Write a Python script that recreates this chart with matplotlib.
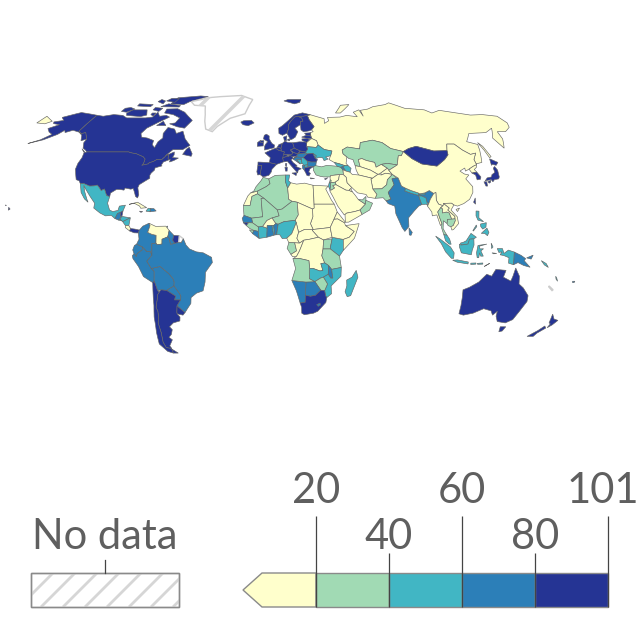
import numpy as np
import matplotlib
matplotlib.use("Agg")
import matplotlib.pyplot as plt
from matplotlib.patches import Polygon, Rectangle

plt.rcParams['font.family'] = ['Lato', 'DejaVu Sans']

# ---- legend data ----
bin_colors = ['#ffffcc', '#a1dab4', '#41b6c4', '#2c7fb8', '#253494']
bin_edges = [20, 40, 60, 80, 101]
no_data_label = 'No data'

# ---- country values (share, per cent; None = no data) ----
values = {
 'Canada':90,'USA':90,'Mexico':50,'Guatemala':70,'Belize':90,'El Salvador':50,'Honduras':50,'Nicaragua':50,
 'Costa Rica':10,'Panama':90,'Cuba':10,'Jamaica':90,'Haiti':50,'Dominican Rep.':70,'Trinidad':50,
 'Greenland':None,'Iceland':90,'Colombia':70,'Venezuela':10,'Guyana':70,'Suriname':90,'French Guiana':None,
 'Ecuador':70,'Peru':70,'Bolivia':70,'Paraguay':70,'Brazil':70,'Uruguay':90,'Argentina':90,'Chile':90,
 'Russia':10,'Kazakhstan':30,'Uzbekistan':10,'Turkmenistan':10,'Kyrgyzstan':30,'Tajikistan':10,'Afghanistan':10,
 'Pakistan':30,'India':70,'Nepal':50,'Bangladesh':50,'Bhutan':50,'China':10,'Mongolia':90,'North Korea':10,
 'South Korea':90,'Japan':90,'Taiwan':90,'Myanmar':10,'Thailand':30,'Laos':10,'Cambodia':30,'Vietnam':10,
 'Malaysia':50,'Indonesia':50,'Papua New Guinea':70,'Solomon Is.':50,'Philippines':50,'Sri Lanka':70,
 'Australia':90,'New Zealand':90,'New Caledonia':None,'Vanuatu':50,'Fiji':70,
 'Turkey':30,'Georgia':50,'Armenia':70,'Azerbaijan':50,'Syria':10,'Iraq':10,'Jordan':30,'Saudi Arabia':10,
 'Kuwait':10,'UAE':30,'Oman':30,'Yemen':10,'Iran':10,'Israel':50,'Lebanon':30,
 'Norway':90,'Sweden':90,'Finland':90,'Estonia':90,'Latvia':90,'Lithuania':90,'Belarus':10,'Ukraine':50,
 'Moldova':50,'Romania':90,'Bulgaria':70,'Greece':90,'Cyprus':90,'Albania':70,'Serbia':50,'N. Macedonia':50,
 'Bosnia':50,'Croatia':70,'Slovenia':90,'Hungary':70,'Slovakia':90,'Czechia':90,'Austria':90,'Switzerland':90,
 'Poland':90,'Germany':90,'France':90,'Spain':90,'Portugal':90,'Italy':90,'UK':90,'Ireland':90,'Denmark':90,
 'Netherlands':90,'Belgium':90,
 'Morocco':30,'Western Sahara':10,'Algeria':30,'Tunisia':50,'Libya':10,'Egypt':10,'Sudan':10,'South Sudan':10,
 'Mauritania':30,'Mali':30,'Niger':30,'Chad':10,'Senegal':70,'Guinea-Bissau':90,'Guinea':30,'Sierra Leone':30,
 'Liberia':70,"Cote d'Ivoire":50,'Burkina Faso':10,'Ghana':70,'Togo':50,'Benin':70,'Nigeria':50,'Cameroon':10,
 'CAR':10,'Gabon':30,'Congo':10,'DR Congo':10,'Uganda':30,'Kenya':50,'Tanzania':30,'Ethiopia':10,'Eritrea':10,
 'Somalia':10,'Zambia':50,'Malawi':70,'Mozambique':50,'Zimbabwe':30,'Botswana':70,'Namibia':70,
 'South Africa':90,'Lesotho':70,'Angola':30,'Madagascar':50,
}

# ---- country outlines (lon, lat) ----
outlines = {
'Canada':[
 [(-141,69.6),(-135,69),(-128,70),(-120,69.5),(-115,68),(-108,68),(-100,68),(-95,68.5),(-94,71.5),(-90,69),(-85,69.5),(-81.5,68.5),(-87,65.5),(-93,62),(-94.5,59),(-92.5,57),(-88,56.5),(-82.5,55.1),(-82,52.9),(-79.5,51.3),(-79,54.5),(-77,56.5),(-78.5,59),(-77.5,62.4),(-72,61.5),(-69,59),(-65,60.3),(-61,56),(-56,52.5),(-60,50.2),(-66.5,50.2),(-70,47),(-65,49),(-64.5,47.5),(-65,46),(-61,45.8),(-63.5,44.5),(-66,43.7),(-66,45.1),(-67,44.8),(-67.8,45.7),(-68,47.3),(-69.2,47.4),(-70.3,46.2),(-71.5,45),(-74.7,45),(-76.5,44),(-79,43.3),(-79,42.8),(-83.1,42),(-82.4,43),(-82.5,45.3),(-84.5,46.5),(-89.6,48),(-94.6,48.7),(-95.2,49),(-123.3,49),(-125,50),(-127.5,51),(-130,54),(-130,55.9),(-135,59.5),(-137.5,58.9),(-141,60.3)],
 [(-59,47.7),(-53,46.7),(-52.8,48),(-56,51.5),(-57.5,50.5)],
 [(-128,50.7),(-123.5,48.4),(-125,48.8)],
 [(-62,66.5),(-65,62),(-71,62.8),(-78,64.5),(-74,65),(-73,68),(-80,70),(-88,71),(-89,73.5),(-80,73.7),(-72,71.5),(-67,69)],
 [(-117,69.5),(-105,68.8),(-101,69.7),(-105,73),(-117,73),(-119,71)],
 [(-125,72),(-120,71.5),(-116,73.5),(-121,74.5),(-125,74)],
 [(-90,77),(-78,76.5),(-75,78.5),(-62,82.5),(-70,83.1),(-90,81.5)],
 [(-96,75),(-80,74.8),(-80,75.8),(-92,77)],
 [(-117,75.5),(-105,75),(-105,76.5),(-118,77)],
 [(-87,63.5),(-80,63.5),(-84,66)],
 [(-100,73),(-94,72),(-93,74),(-100,74.5)],
 [(-97,79),(-88,78),(-88,81),(-95,81)],
 [(-104,78.5),(-97,77),(-98,79),(-103,80)],
 [(-98,70),(-95,69),(-95,71),(-98,71)],
],
'USA':[
 [(-124.7,48.4),(-123.3,49),(-95.2,49),(-94.6,48.7),(-89.6,48),(-84.5,46.5),(-82.5,45.3),(-82.4,43),(-83.1,42),(-79,42.8),(-79,43.3),(-76.5,44),(-74.7,45),(-71.5,45),(-70.3,46.2),(-69.2,47.4),(-68,47.3),(-67.8,45.7),(-67,44.8),(-70,43.7),(-70.7,42),(-70,41.7),(-74,40.7),(-74,39.5),(-75.5,38),(-76,36.9),(-75.5,35.3),(-77.9,33.9),(-81,32),(-81.4,30.5),(-80,26.8),(-80.4,25.2),(-81.8,26),(-82.8,28),(-84,30),(-85.5,29.7),(-89,30.3),(-89.5,29.2),(-91.5,29.5),(-94,29.6),(-97.2,27.7),(-97.2,25.9),(-99.2,26.4),(-101.4,29.8),(-103.2,29),(-104.8,30.5),(-106.5,31.8),(-108.2,31.4),(-111,31.3),(-114.8,32.5),(-117.1,32.5),(-118.5,34),(-120.6,34.6),(-122,36.8),(-124,40),(-124.5,43),(-124,46)],
 [(-141,69.6),(-141,60.3),(-137.5,58.9),(-135,59.5),(-130,55.9),(-133,55),(-136,58),(-140,59.7),(-146,60.8),(-150,59.5),(-152,60.8),(-154,58.5),(-160,55.5),(-168,53.5),(-162,55.5),(-158,58.5),(-162,59.8),(-166,61.8),(-161,64),(-166.5,64.6),(-168,65.6),(-162,66.5),(-166.5,68.3),(-156.7,71.3),(-148,70.4)],
 [(-156,20.4),(-154.9,19.5),(-155.8,18.9)],
 [(-158.3,21.6),(-157.6,21.4),(-158,21.2)],
],
'Mexico':[[(-117.1,32.5),(-114.8,32.5),(-111,31.3),(-108.2,31.4),(-106.5,31.8),(-104.8,30.5),(-103.2,29),(-101.4,29.8),(-99.2,26.4),(-97.2,25.9),(-97.8,22.5),(-96,19),(-94,18.2),(-91,18.8),(-90.5,21),(-87,21.5),(-88,18.5),(-89.1,17.9),(-91,17.2),(-92.2,14.6),(-94.5,16.2),(-98,16),(-101.5,17.5),(-105.5,20),(-105.5,22.5),(-109,26),(-112.5,29.5),(-114.7,31.7),(-113,28.5),(-110.5,24.5),(-109.5,23),(-112,24.7),(-115,28),(-115.8,30)]],
'Guatemala':[[(-92.2,14.6),(-91,17.2),(-89.1,17.9),(-89.2,15.9),(-88.2,15.7),(-90,13.8)]],
'Belize':[[(-89.1,17.9),(-88,18.5),(-88.2,16),(-89.2,15.9)]],
'El Salvador':[[(-90,13.8),(-89.3,14.4),(-87.8,13.4)]],
'Honduras':[[(-89.3,14.4),(-88.2,15.7),(-83.2,15),(-87.5,13)]],
'Nicaragua':[[(-87.5,13),(-83.2,15),(-83.7,11),(-85.7,11)]],
'Costa Rica':[[(-85.7,11),(-83.7,11),(-82.6,9.5),(-83,8.2),(-85.7,10)]],
'Panama':[[(-83,8.2),(-82.6,9.5),(-80,9.2),(-77.4,8.7),(-77.9,7.2),(-80.4,7.3)]],
'Cuba':[[(-84.9,21.9),(-80,23),(-74.2,20.2),(-77.7,19.9),(-78.5,21),(-82,22.5)]],
'Jamaica':[[(-78.3,18.4),(-76.3,18.2),(-77.3,17.8)]],
'Haiti':[[(-74.4,18.4),(-72,18.1),(-71.7,19.8),(-73.3,19.9)]],
'Dominican Rep.':[[(-71.7,19.8),(-72,18.1),(-68.4,18.5),(-69.9,19.7)]],
'Trinidad':[[(-61.9,10.1),(-61,10.1),(-61,10.8)]],
'Greenland':[[(-73,78.2),(-68,76),(-58,75.5),(-54,70),(-52,66),(-49,61.5),(-43.5,60),(-41,63),(-33,67.8),(-22,70.5),(-20,76),(-18,80),(-30,83.5),(-50,82.5),(-62,81.5),(-66,80),(-73,78.7)]],
'Iceland':[[(-24,65.5),(-22,64),(-18,63.4),(-13.7,65),(-16,66.5),(-22,66.3)]],
'Colombia':[[(-77.4,8.7),(-75.5,10.7),(-72,12.2),(-71.3,11),(-72.5,7.5),(-70,6.5),(-67.5,6),(-67.5,2),(-69.9,1.7),(-69.9,-4.3),(-70.8,-2.3),(-72.9,-2.4),(-75.2,-0.1),(-78.8,1.4),(-77.4,4),(-77.9,7.2)]],
'Venezuela':[[(-72,12.2),(-68,10.6),(-62,10.7),(-60,8.5),(-60.7,5.2),(-64,4),(-64,1.5),(-67,1.2),(-67.5,2),(-67.5,6),(-70,6.5),(-72.5,7.5),(-71.3,11)]],
'Guyana':[[(-60,8.5),(-57.2,6),(-57.8,3.5),(-56.5,1.9),(-59,1.3),(-60,4.5),(-60.7,5.2)]],
'Suriname':[[(-57.2,6),(-54,5.8),(-54.3,2.3),(-56.5,1.9),(-57.8,3.5)]],
'French Guiana':[[(-54,5.8),(-51.6,4.2),(-52.8,2.2),(-54.3,2.3)]],
'Ecuador':[[(-80,0.8),(-78.8,1.4),(-75.2,-0.1),(-75.5,-1.5),(-78.4,-3.4),(-79,-5),(-80.3,-3.4),(-81,-1.5)]],
'Peru':[[(-81.3,-4.5),(-80.3,-3.4),(-79,-5),(-78.4,-3.4),(-75.5,-1.5),(-75.2,-0.1),(-72.9,-2.4),(-70.8,-2.3),(-69.9,-4.3),(-73,-7.3),(-70.6,-11),(-69,-12.5),(-69.5,-17.5),(-70.4,-18.3),(-75.5,-15.2),(-78,-10),(-81,-6)]],
'Bolivia':[[(-70.6,-11),(-65.3,-10),(-60.5,-13.7),(-58.2,-16.3),(-57.7,-18),(-58,-20),(-62.6,-22.3),(-66,-22),(-68,-22.5),(-69,-19),(-69.5,-17.5),(-69,-12.5)]],
'Paraguay':[[(-62.6,-22.3),(-58,-20),(-55,-24),(-54.5,-25.5),(-55,-27.2),(-58.6,-27.2),(-57.7,-25.2)]],
'Brazil':[[(-60.7,5.2),(-60,4.5),(-59,1.3),(-56.5,1.9),(-54.3,2.3),(-52.8,2.2),(-51.6,4.2),(-50,1),(-48,-1),(-44,-2.5),(-40,-3),(-35.2,-5.3),(-34.8,-8),(-39,-13),(-39.5,-18),(-41,-22.5),(-45,-23.7),(-48.5,-26),(-49,-29),(-53.4,-33.7),(-57.6,-30.2),(-55,-27.2),(-54.5,-25.5),(-55,-24),(-58,-20),(-57.7,-18),(-58.2,-16.3),(-60.5,-13.7),(-65.3,-10),(-70.6,-11),(-73,-7.3),(-69.9,-4.3),(-69.9,1.7),(-67.5,2),(-67,1.2),(-64,1.5),(-64,4)]],
'Uruguay':[[(-58.4,-33.5),(-57.6,-30.2),(-53.4,-33.7),(-54.9,-35),(-58.4,-34.3)]],
'Argentina':[
 [(-66,-22),(-62.6,-22.3),(-57.7,-25.2),(-58.6,-27.2),(-55,-27.2),(-57.6,-30.2),(-58.4,-33.5),(-58.4,-34.3),(-57,-36),(-57.6,-38),(-62,-39),(-65,-41),(-63.8,-42.5),(-65.3,-45),(-67.5,-46.5),(-65.8,-47.8),(-69,-51),(-68.4,-52.4),(-71.9,-52),(-72.5,-49),(-71.5,-44),(-71.5,-39),(-70.3,-36),(-69.9,-33),(-70.5,-31),(-69,-27),(-68.3,-24.5),(-67,-23)],
 [(-68.6,-52.7),(-65.2,-54.9),(-68.6,-54.9)]],
'Chile':[[(-69.5,-17.5),(-69,-19),(-68,-22.5),(-67,-23),(-68.3,-24.5),(-69,-27),(-70.5,-31),(-69.9,-33),(-70.3,-36),(-71.5,-39),(-71.5,-44),(-72.5,-49),(-71.9,-52),(-68.4,-52.4),(-68.6,-52.7),(-68.6,-54.9),(-72,-54),(-75.5,-50),(-74.5,-44),(-73.5,-40),(-73,-36),(-71.5,-30),(-70.4,-18.3)]],
'Russia':[
 [(31,69.9),(41,67.5),(40,64.7),(44,66.3),(44,68.3),(54,68.5),(60,69.5),(68,68.7),(67,71.5),(73,73),(73,69),(74,72.7),(81,73.5),(87,75),(100,76.5),(105,77.7),(113,74),(128,73),(131,71),(140,72.7),(160,69.7),(170,70),(180,69),(180,65),(177,62.5),(170,60),(164,60),(162,56),(156.7,51),(155.6,56.5),(163,62),(155,59.5),(142,59),(135,54.5),(141,53),(135,43.5),(131,42.8),(130.7,42.3),(131,45),(135,48.4),(131,47.7),(127.5,50),(125,53.2),(120,53.2),(117,49.7),(108,49.5),(98,52),(92,50.8),(87.5,49.2),(80,50.8),(76,54),(70,55.3),(61,54),(59,50.6),(51,51.6),(47,50),(47,48),(49,46.4),(47.5,43),(48.5,41.8),(46.5,41.8),(43.5,42.7),(40,43.5),(37,45),(38.5,47),(40,49.5),(35,50.3),(31.5,52.7),(31,55),(28,56.2),(27.5,59.4),(30,60),(29,61),(31.5,62.9),(29,66.9),(28.5,69),(28.5,69.5)],
 [(52,71),(56,71),(68,76.5),(60,76)],
 [(142,54),(143.3,52),(143.5,46.5),(142,46),(142,50)],
 [(-180,69),(-175,67.5),(-170,66),(-173,64.5),(-180,65)],
],
'Kazakhstan':[[(47,50),(51,51.6),(59,50.6),(61,54),(70,55.3),(76,54),(80,50.8),(87.5,49.2),(85,47),(83,47),(80,42.2),(74,43),(70,42.5),(66,41),(66,43.5),(61,44.5),(58.5,45.5),(56,45),(56,41.3),(53,41.8),(52.5,45),(50,45.5),(49,46.4),(47,48)]],
'Uzbekistan':[[(56,45),(58.5,45.5),(61,44.5),(66,43.5),(66,41),(70,42.5),(73,40.5),(68,38),(66,37.3),(62,39.5),(56,41.3)]],
'Turkmenistan':[[(53,41.8),(56,41.3),(62,39.5),(66,37.3),(62,35.3),(53.9,37),(53,39.5)]],
'Kyrgyzstan':[[(70,42.5),(74,43),(80,42.2),(73.5,39.4),(73,40.5)]],
'Tajikistan':[[(68,38),(73,40.5),(73.5,39.4),(75,37.3),(71,37.9),(68,37)]],
'Afghanistan':[[(66,37.3),(68,37),(71,37.9),(75,37.3),(71,34.5),(70,32),(66.5,29.9),(61,29.8),(61,35),(62,35.3)]],
'Pakistan':[[(61.6,25),(66.5,25.3),(68,23.7),(71,24.5),(70,28),(74.5,32),(74,35),(77,35.5),(75,37.3),(71,34.5),(70,32),(66.5,29.9),(61,29.8),(63,27)]],
'India':[[(68,23.7),(69,22.3),(72.8,21),(73,17),(76,10),(77.5,8),(80,10.5),(80.2,15),(84,18.5),(87,21),(89,21.8),(88.3,24.5),(88,26.3),(89.7,26.2),(92,25.2),(92,23.5),(93,22),(94.5,24.5),(97.3,27.5),(95,29),(92,27.8),(88.8,27.3),(88,27.8),(88,26.5),(84,27.5),(80.2,28.8),(81,30.2),(78.8,31.3),(78,35.4),(77,35.5),(74,35),(74.5,32),(70,28),(71,24.5)]],
'Nepal':[[(80.2,28.8),(84,27.5),(88,26.5),(88,27.8),(84,29),(81,30.2)]],
'Bangladesh':[[(88.3,24.5),(89,21.8),(91.8,22),(92.5,21),(92,25.2),(89.7,26.2),(88,26.3)]],
'Bhutan':[[(88.8,27.3),(92,27.8),(92,26.8),(89,26.8)]],
'China':[
 [(73.5,39.4),(80,42.2),(83,47),(85,47),(87.5,49.2),(91,45.5),(96,42.7),(105,41.6),(112,45),(116,47.5),(117,49.7),(120,53.2),(125,53.2),(127.5,50),(131,47.7),(135,48.4),(131,45),(130.7,42.3),(128,41.5),(124.3,40),(121.5,39),(122,40.6),(118,39),(120,37.5),(122.5,37),(119.5,35),(122,31),(121,28),(118,24.5),(114,22.3),(110,21),(108,21.6),(106.7,22.5),(102,22.4),(101.5,21.2),(99,22),(98,24),(98.7,28),(97.3,27.5),(95,29),(92,27.8),(88.8,27.3),(88,27.8),(84,29),(81,30.2),(78.8,31.3),(78,35.4),(75,37.3)],
 [(108.8,19.3),(111,20),(109.5,18.2)]],
'Mongolia':[[(87.5,49.2),(92,50.8),(98,52),(108,49.5),(117,49.7),(116,47.5),(112,45),(105,41.6),(96,42.7),(91,45.5)]],
'North Korea':[[(130.7,42.3),(128,41.5),(124.3,40),(125,38),(128.3,38.5),(127.5,39.8),(129.7,41)]],
'South Korea':[[(125,38),(128.3,38.5),(129.4,36),(128.5,34.8),(126.3,34.5),(126.7,37)]],
'Japan':[
 [(131,34),(133,35.5),(136,36),(137,37.2),(139.5,38.3),(140,40.5),(141.5,41.4),(142,39.5),(140.8,36),(139.8,35),(137,34.6),(135.5,33.5),(135,34.6)],
 [(130,33.5),(131.7,33.5),(131.2,31.3),(130.2,31.3)],
 [(132.3,33.5),(134.5,34.2),(134,33.3),(133,32.8)],
 [(140,42),(141.5,45.4),(145.3,43.5),(143,42),(141,42.5)]],
'Taiwan':[[(120,23),(121.5,25.2),(121,22)]],
'Myanmar':[[(92.2,21),(94.3,18),(94.3,16),(97,16.5),(98.5,11),(99.5,12),(98.5,15),(97.8,18),(100,20.3),(101.5,21.2),(99,22),(98,24),(98.7,28),(97.3,27.5),(94.5,24.5),(93,22)]],
'Thailand':[[(97.8,18),(98.5,15),(99.5,12),(99,10),(100.1,6.4),(102,6),(101,7.5),(99.9,9.5),(100.5,13.5),(102.5,12),(103,14.2),(105.5,14.3),(104.5,17.5),(103,18),(100.5,17.5),(101,19.5),(100,20.3)]],
'Laos':[[(101.5,21.2),(102,22.4),(105,20),(103.9,19),(107.5,15.8),(107.5,14.5),(105.5,14.3),(104.5,17.5),(103,18),(100.5,17.5),(101,19.5),(100,20.3)]],
'Cambodia':[[(103,14.2),(105.5,14.3),(107.5,14.5),(107.5,13.5),(106,11),(104.5,10.4),(103,11),(102.5,12)]],
'Vietnam':[[(102,22.4),(106.7,22.5),(108,21.6),(105.8,19),(108.9,15.5),(109.2,12),(106,9),(105,8.7),(104.5,10.4),(106,11),(107.5,13.5),(107.5,15.8),(103.9,19),(105,20)]],
'Malaysia':[[(100.1,6.4),(102,6),(103.4,4),(104.2,1.4),(103,1.5),(101,3.2)],
 [(109.6,2),(111.5,2.5),(113,3.2),(116,7),(119,5),(117.5,4.2),(115,4),(114,1.5),(110,1)]],
'Indonesia':[
 [(95.3,5.6),(98,4),(103.8,0),(106,-3),(105.8,-5.8),(104.5,-5.8),(101,-2.5),(98.5,1.7)],
 [(105.3,-6.8),(108,-6.6),(114.5,-7.7),(114.4,-8.7),(108,-7.8)],
 [(109,1.5),(110,1),(114,1.5),(115,4),(117.5,4.2),(117.5,1),(116.5,-1.5),(116,-4),(110.2,-3),(109,0)],
 [(119.8,0.8),(125,1.5),(120.5,0.4),(121,-1),(123,-0.9),(121.5,-2),(123,-4.7),(121.5,-4.7),(120.8,-3),(120.4,-5.5),(119.5,-5.5),(119,-3)],
 [(116,-8.3),(119,-8.2),(119,-8.8),(116,-9)],
 [(119.8,-8.4),(123,-8.2),(123,-8.8),(120,-8.9)],
 [(124,-10),(127,-8.4),(125,-9.4)],
 [(127.5,2),(128.5,0),(127.7,-0.8)],
 [(131,-0.8),(134,-0.8),(135,-3.3),(137.5,-1.6),(141,-2.6),(141,-9.1),(138,-8.3),(138,-5.5),(135,-4.4),(132.8,-4),(133.8,-2.5),(132,-2.8)],
 [(128,-3),(130.8,-3.3),(129,-3.5)]],
'Papua New Guinea':[
 [(141,-2.6),(145,-4.3),(147.8,-6),(147,-7),(150.8,-10.4),(147,-9.5),(143.5,-8),(141,-9.1)],
 [(148.3,-5.6),(152,-4.2),(151,-6.2)]],
'Solomon Is.':[[(157,-7),(160,-8.5),(161.5,-10.5),(159,-9.2)]],
'Vanuatu':[[(166.6,-15),(167.5,-16),(168.4,-17.6),(167.2,-16.5)]],
'Fiji':[[(177.3,-17.6),(178.6,-17.6),(178.3,-18.3),(177.3,-18.2)]],
'New Caledonia':[[(164,-20),(167,-22),(166.5,-22.4),(164,-20.5)]],
'Philippines':[
 [(120.5,18.5),(122.2,18.4),(121.5,15),(124,13),(120.8,13.8),(120,16)],
 [(122,7),(125.5,9.7),(126.5,7.5),(125.5,5.8),(124,7)],
 [(122,11.8),(125.5,12.5),(125,10.2),(123,9.2),(122,10.5)],
 [(117.2,8.4),(119.5,11.3),(119.7,10.5),(117.5,8.2)]],
'Sri Lanka':[[(80,9.8),(81.8,7.5),(81,6),(80,6.2)]],
'Australia':[
 [(113.5,-22),(114,-26),(115,-34.3),(118,-35),(123.5,-34),(129,-31.7),(134,-32.8),(136,-35),(138,-33),(138.5,-35.5),(141,-38.3),(146.5,-39),(150,-37.3),(151.5,-33),(153.6,-28),(153,-25),(149,-21),(146,-19),(145.3,-15),(142.5,-10.8),(141.5,-15),(140.8,-17.5),(136,-15.5),(137,-12),(131,-11.5),(129,-15),(126,-14),(122,-18),(117,-20.7)],
 [(144.8,-41),(148.3,-41),(147.8,-43.2),(146,-43.6)]],
'New Zealand':[
 [(172.8,-34.5),(175.5,-37),(178.5,-37.7),(176.8,-40),(175,-41.5),(175.2,-39.5),(174,-39)],
 [(172.7,-40.6),(174.3,-41.7),(171.2,-44.3),(170.5,-46),(166.5,-46),(170.5,-43)]],
'Turkey':[[(26,42),(28,41.8),(31.5,41.2),(35,42),(41.5,41.5),(43.6,41),(44.7,39.7),(44.5,37.2),(42,37.2),(36.5,36.7),(36,36),(32,36),(30,36.3),(27.4,37),(26,39.5),(26.3,41)]],
'Georgia':[[(40,43.5),(43.5,42.7),(46.5,41.8),(45,41.3),(43.6,41),(41.5,41.5)]],
'Armenia':[[(43.6,41),(45,41.3),(46.5,39),(44.7,39.7)]],
'Azerbaijan':[[(45,41.3),(46.5,41.8),(48.5,41.8),(50,40.4),(48.9,38.4),(46.5,39)]],
'Syria':[[(36,36),(36.5,36.7),(42,37.2),(41,34.5),(38.8,33.3),(36,33),(35.8,34.7)]],
'Iraq':[[(42,37.2),(44.5,37.2),(46,35.8),(46,33),(48.5,30.5),(47.7,30),(46.5,29.1),(44.7,29.2),(39,32),(38.8,33.3),(41,34.5)]],
'Jordan':[[(35,29.4),(35.5,32.4),(36,33),(38.8,33.3),(39,32),(37,31.5),(38,30.3),(36,29.3)]],
'Saudi Arabia':[[(34.8,29),(36,29.3),(38,30.3),(37,31.5),(39,32),(44.7,29.2),(46.5,29.1),(48.5,28.3),(50,26.5),(51.5,24.4),(55.5,22),(52,19),(48.8,18.2),(44,17.4),(43,16.7),(42.5,16.5),(39,21),(36.7,25.5)]],
'Kuwait':[[(46.5,29.1),(47.7,30),(48.5,28.3)]],
'UAE':[[(51.5,24.4),(54,24.2),(56.3,26),(56,24),(55.5,22)]],
'Oman':[[(56,24),(59.8,22.5),(57.7,19),(53,16.7),(52,19),(55.5,22)]],
'Yemen':[[(43,12.7),(45,12.8),(53,16.7),(52,19),(48.8,18.2),(44,17.4),(43,16.7)]],
'Iran':[[(44.7,39.7),(46.5,39),(48.9,38.4),(50,37.3),(53.9,37),(62,35.3),(61,35),(61,29.8),(63,27),(61.6,25),(57.3,25.6),(56.5,27),(51.5,27.8),(48.5,30.5),(46,33),(46,35.8),(44.5,37.2)]],
'Israel':[[(34.3,31.3),(35,33),(35.6,33),(35.5,31),(35,29.5)]],
'Lebanon':[[(35.1,33),(35.9,34.6),(36.5,34),(35.6,33)]],
'Norway':[[(5,59),(7.5,58),(10.8,59.2),(12,61.2),(12.5,64),(14.5,66),(18,68.5),(20.5,69),(25,69),(28.5,69.5),(31,69.9),(25,71.1),(18,69.7),(12,66),(8,63.5),(5,62)],
 [(11,79),(20,77),(25,78),(27,80),(15,80)]],
'Sweden':[[(10.8,59.2),(13,55.5),(14.5,56),(16.5,57),(18.8,60),(17,62),(21.5,64),(22,65.8),(24,66),(23.5,68),(20.5,69),(18,68.5),(14.5,66),(12.5,64),(12,61.2)]],
'Finland':[[(24,66),(22,65.8),(21.5,63.5),(21.3,61),(23,59.9),(27.5,60.5),(29,61),(31.5,62.9),(29,66.9),(28.5,69),(28.5,69.5),(25,69),(20.5,69),(23.5,68)]],
'Estonia':[[(23.5,59.2),(28,59.4),(27.5,57.6),(24.5,58)]],
'Latvia':[[(21,57),(24.5,58),(27.5,57.6),(28,56.2),(25,56.2)]],
'Lithuania':[[(21,56),(25,56.2),(26.5,55.5),(24,54),(21,55.2)]],
'Belarus':[[(23.5,52),(24,54),(26.5,55.5),(28,56.2),(31,55),(31.5,52.7),(30,51.4),(24,51.8)]],
'Ukraine':[[(24,51.8),(30,51.4),(31.5,52.7),(35,50.3),(40,49.5),(38.5,47),(35,46.3),(36.5,45.3),(33.7,44.4),(33,46),(30.5,46),(28.2,45.5),(29,47),(27,48.3),(22.9,47.9),(22.2,49),(24,50.5)]],
'Moldova':[[(27,48.3),(29,47),(28.2,45.5)]],
'Romania':[[(20.3,46),(22.9,47.9),(27,48.3),(28.2,45.5),(29.5,45),(28.5,43.7),(25,43.7),(22.7,44.2)]],
'Bulgaria':[[(22.7,44.2),(25,43.7),(28.5,43.7),(28,42),(26.3,41.3),(22.8,41.3)]],
'Greece':[[(20.2,39.6),(21,40.9),(26.3,41.3),(24,40.2),(23,38.5),(24,37.8),(23,36.5),(21.7,36.8),(21,38.3)],
 [(23.5,35.5),(26.3,35.2),(24,35)]],
'Cyprus':[[(32.3,35),(34.5,35.6),(33,34.6)]],
'Albania':[[(19.4,42),(20.6,42),(21,40.9),(20.2,39.6),(19.3,40.5)]],
'Serbia':[[(19,46),(20.3,46),(22.7,44.2),(22.8,42.3),(20.6,42),(19.2,43),(19,45)]],
'N. Macedonia':[[(20.6,42),(22.8,42.3),(22.8,41.3),(21,40.9)]],
'Bosnia':[[(15.8,45),(19,45),(19.2,43),(18,42.7)]],
'Croatia':[[(13.6,45.3),(16.5,46.5),(19,46),(19,45),(15.8,45),(18,42.7),(15,44.5)]],
'Slovenia':[[(13.6,45.5),(16,46.8),(16.5,46.5),(13.6,45.3)]],
'Hungary':[[(16,46.8),(17,48),(22.2,48.5),(22.9,47.9),(20.3,46),(19,46),(16.5,46.5)]],
'Slovakia':[[(17,48),(19,49.5),(22.5,49),(22.2,48.5)]],
'Czechia':[[(12.2,50),(15,51),(18.8,49.6),(17,48),(14.5,48.6)]],
'Austria':[[(9.6,47.4),(13,47.6),(13.7,48.6),(14.5,48.6),(17,48),(16,46.8),(13.6,46.5),(12,47)]],
'Switzerland':[[(6,46.3),(7,46),(10.4,46.7),(9.6,47.5),(7.6,47.6)]],
'Poland':[[(14.2,53.9),(19,54.4),(23,54.3),(24,54),(23.5,52),(24,50.5),(22.5,49),(19,49.5),(15,51)]],
'Germany':[[(6,51),(7,53.5),(9,54.8),(11,54),(14.2,53.9),(15,51),(12.2,50),(13.7,48.6),(13,47.6),(7.6,47.6),(8.2,49),(6.2,49.5)]],
'France':[[(-1.7,43.4),(3,42.5),(7.4,43.8),(7,46),(7.6,47.6),(8.2,49),(6.2,49.5),(4.2,50),(2.5,51),(-1.5,49.7),(-4.7,48.5),(-1.1,46)],
 [(8.6,42.9),(9.5,42.9),(9.2,41.4),(8.7,41.6)]],
'Belgium':[[(2.5,51),(4.2,51.4),(6,51),(6.2,49.5),(4.2,50)]],
'Netherlands':[[(3.5,51.4),(4.8,53),(7,53.5),(6,51),(4.2,51.4)]],
'Denmark':[[(8.2,57),(10.6,57.7),(10,55),(8.6,55)],[(11,55.8),(12.5,56),(12.3,55),(11,55.2)]],
'Spain':[[(-9,43.7),(-1.7,43.4),(3,42.5),(0,40),(-0.5,38.5),(-2,36.8),(-5.5,36),(-7.4,37.2),(-7,39.5),(-6.5,42),(-9,42)]],
'Portugal':[[(-9,42),(-6.5,42),(-7,39.5),(-7.4,37.2),(-8.9,37),(-9.5,38.7)]],
'Italy':[[(7,46),(7.4,43.8),(10,44),(12.5,41.5),(16,38),(16.5,39.5),(18.5,40.2),(15,41.5),(16,41.8),(13.5,43.5),(12.3,45),(13.6,45.5),(13.6,46.5),(12,47)],
 [(12.5,38),(15.5,38.2),(15,36.7)],[(8.2,41),(9.7,41),(9.5,39),(8.5,39)]],
'UK':[[(-5,50),(1.4,51.2),(1.7,52.7),(0,53.5),(-2,56),(-2,57.6),(-4,58.6),(-5.5,58),(-6,56),(-3,54.5),(-4.5,53),(-5,52)],
 [(-8,55),(-5.6,55),(-6,54),(-8,54.2)]],
'Ireland':[[(-10,52),(-6,52.2),(-6,54),(-8,54.2),(-8,55.2),(-10,54)]],
'Morocco':[[(-5.5,35.8),(-2,35),(-1.2,32.5),(-3.5,31),(-8.7,28.7),(-13,27.7),(-11,28.7),(-9.7,31),(-6.8,34)]],
'Western Sahara':[[(-13,27.7),(-8.7,28.7),(-8.7,27.3),(-12,26),(-13,21.3),(-17,21.3),(-14.5,26.2)]],
'Algeria':[[(-2,35),(2,36.8),(8.6,37),(8.3,33.5),(9.5,30.2),(10,24.5),(12,23.5),(6,19.5),(3.2,19),(-4.8,25),(-8.7,27.3),(-8.7,28.7),(-3.5,31),(-1.2,32.5)]],
'Tunisia':[[(8.6,37),(11,37),(10.2,34),(11.5,33),(9.5,30.2),(8.3,33.5)]],
'Libya':[[(11.5,33),(15,32.3),(20,32.8),(25,31.7),(25,20),(24,19.5),(15,23),(12,23.5),(10,24.5),(9.5,30.2)]],
'Egypt':[[(25,31.7),(34.2,31.3),(32.5,29.8),(35.5,24),(37,22),(25,22)]],
'Sudan':[[(24,19.5),(25,20),(25,22),(37,22),(38.5,18),(36.4,14.3),(34,10),(29,9.5),(24,9),(22.5,12),(24,15.5)]],
'South Sudan':[[(24,9),(29,9.5),(34,10),(35,5),(30,3.6),(27,5),(23.5,8.5)]],
'Mauritania':[[(-17,21.3),(-13,21.3),(-12,26),(-8.7,27.3),(-4.8,25),(-6.5,25),(-5.5,15.5),(-12,14.8),(-16.5,16.2)]],
'Mali':[[(-12,14.8),(-5.5,15.5),(-6.5,25),(-4.8,25),(3.2,19),(4.2,16),(0,14.9),(-3,13.6),(-5.5,10.5),(-8,10.3),(-11.4,12.4)]],
'Niger':[[(4.2,16),(3.2,19),(6,19.5),(12,23.5),(15,23),(15.5,16.5),(13.6,13.7),(7,13),(3.6,11.7),(2.2,12),(0,14.9)]],
'Chad':[[(15,23),(24,19.5),(24,15.5),(22.5,12),(24,9),(19,9),(15.5,7.5),(14.2,12.5),(13.6,13.7),(15.5,16.5)]],
'Senegal':[[(-17.5,14.7),(-16.5,16.2),(-12,14.8),(-11.4,12.4),(-16.7,12.4)]],
'Guinea-Bissau':[[(-16.7,12.4),(-13.7,12.5),(-15,11)]],
'Guinea':[[(-15,11),(-13.7,12.5),(-11.4,12.4),(-8,10.3),(-8,8),(-10.5,8.5),(-13,9.5)]],
'Sierra Leone':[[(-13.2,8.8),(-10.5,8.5),(-11.3,6.9)]],
'Liberia':[[(-11.4,6.9),(-10.5,8.5),(-8,8),(-7.5,4.4)]],
"Cote d'Ivoire":[[(-8,8),(-8,10.3),(-5.5,10.5),(-2.8,9.7),(-3,5),(-7.5,4.4)]],
'Burkina Faso':[[(-5.5,10.5),(-3,13.6),(0,14.9),(2.2,12),(1,11),(0,11),(-2.8,11),(-2.8,9.7)]],
'Ghana':[[(-2.8,11),(0,11),(1,6),(-3,5),(-2.8,9.7)]],
'Togo':[[(0,11),(1,11),(1.7,6.2),(1,6)]],
'Benin':[[(1,11),(2.2,12),(3.6,11.7),(2.7,6.3),(1.7,6.2)]],
'Nigeria':[[(2.7,6.3),(3.6,11.7),(7,13),(13.6,13.7),(14.2,12.5),(11.5,6.8),(8.6,4.5),(6,4.3),(4.5,6.3)]],
'Cameroon':[[(8.6,4.5),(11.5,6.8),(14.2,12.5),(15.5,7.5),(14.5,4.5),(16,2),(9.8,2.2)]],
'CAR':[[(14.5,4.5),(15.5,7.5),(19,9),(24,9),(23.5,8.5),(27,5),(22,4),(18.5,3.5),(16,2)]],
'Gabon':[[(9.8,2.2),(13.2,2.2),(14.3,-2),(11,-3.8),(8.8,-0.7)]],
'Congo':[[(13.2,2.2),(16,2),(18.5,3.5),(16,-2),(14.3,-4.8),(12,-5),(11,-3.8),(14.3,-2)]],
'DR Congo':[[(18.5,3.5),(22,4),(27,5),(30,3.6),(29.7,-1),(29,-4.5),(30.8,-8.2),(28.5,-8.5),(29.8,-12.1),(28,-12.3),(24,-11),(22,-11),(21.5,-7),(16.5,-6),(12.2,-6),(14.3,-4.8),(16,-2)]],
'Uganda':[[(30,3.6),(35,4.2),(34,0),(33.9,-1),(29.7,-1)]],
'Kenya':[[(35,4.2),(35,5),(41.5,3.9),(41.5,-1.7),(39.3,-4.7),(33.9,-1),(34,0)]],
'Tanzania':[[(29.7,-1),(33.9,-1),(39.3,-4.7),(40.5,-10.5),(34.9,-11.5),(33,-9.5),(30.8,-8.2),(29,-4.5)]],
'Ethiopia':[[(36.4,14.3),(38.5,14.5),(42.4,12.5),(43,11),(48,8),(45,5),(41.5,3.9),(35,5),(34,10)]],
'Eritrea':[[(36.4,14.3),(38.5,18),(43,12.7),(42.4,12.5),(38.5,14.5)]],
'Somalia':[[(43,11),(51,12),(48,4.5),(41.5,-1.7),(41.5,3.9),(45,5),(48,8)]],
'Zambia':[[(22,-11),(24,-11),(28,-12.3),(29.8,-12.1),(28.5,-8.5),(30.8,-8.2),(33,-9.5),(33,-14),(30.2,-15.5),(28.5,-16),(25.3,-17.8),(22,-16.3)]],
'Malawi':[[(33,-9.5),(34.9,-11.5),(35.8,-16),(34.5,-16),(33,-14)]],
'Mozambique':[[(30.2,-15.5),(33,-14),(34.5,-16),(35.8,-16),(34.9,-11.5),(40.5,-10.5),(40.5,-15),(35,-20),(35.5,-24),(32.8,-26),(32,-25),(31.3,-22.4),(32.8,-19)]],
'Zimbabwe':[[(25.3,-17.8),(28.5,-16),(30.2,-15.5),(32.8,-19),(31.3,-22.4),(29,-22.2)]],
'Botswana':[[(20,-18),(25.3,-17.8),(29,-22.2),(26,-24.8),(23,-25.3),(20,-24.8)]],
'Namibia':[[(11.7,-17.2),(20,-18),(20,-28.4),(17,-28.8),(14.5,-22.5)]],
'South Africa':[[(17,-28.8),(20,-28.4),(20,-24.8),(23,-25.3),(26,-24.8),(29,-22.2),(31.3,-22.4),(32,-25),(32.8,-26),(32.5,-28.5),(28,-33),(25.5,-34),(20,-34.8),(18.3,-34),(18,-31)]],
'Lesotho':[[(27,-29.6),(29,-28.8),(29.4,-29.8),(28,-30.5)]],
'Angola':[[(12.2,-6),(16.5,-6),(21.5,-7),(22,-11),(22,-16.3),(25.3,-17.8),(20,-18),(11.7,-17.2),(13.8,-11)]],
'Madagascar':[[(49.3,-12),(50.5,-15.5),(47,-25),(45,-25.5),(43.5,-23),(44.3,-20),(44,-17),(47,-15.5)]],
}

# ---- Robinson projection tables ----
LATS = np.arange(0, 95, 5)
PLEN = [1,.9986,.9954,.99,.9822,.973,.96,.9427,.9216,.8962,.8679,.835,.7986,.7597,.7186,.6732,.6213,.5722,.5322]
PDFE = [0,.062,.124,.186,.248,.31,.372,.434,.4958,.5571,.6176,.6769,.7346,.7903,.8435,.8936,.9394,.9761,1]

def project(ring):
    pts = []
    n = len(ring)
    for i in range(n):
        a = np.array(ring[i], float)
        b = np.array(ring[(i + 1) % n], float)
        steps = max(1, int(np.hypot(*(b - a)) // 3))
        for t in range(steps):
            pts.append(a + (b - a) * t / steps)
    p = np.array(pts)
    al = np.abs(p[:, 1])
    return np.column_stack([p[:, 0] * np.interp(al, LATS, PLEN),
                            np.sign(p[:, 1]) * np.interp(al, LATS, PDFE)])

def color_for(v):
    for c, e in zip(bin_colors, bin_edges):
        if v < e:
            return c
    return bin_colors[-1]

fig = plt.figure(figsize=(6.4, 6.4), dpi=100, facecolor='white')
ax = fig.add_axes([0, 0, 1, 1])
K, S, CX, CY = 1.72, 157.0, 272.0, 247.0
ax.set_xlim(-CX / K, (640 - CX) / K)
ax.set_ylim(-(640 - CY) / S, CY / S)
ax.axis('off')

# overlay in pixel units, used for the legend and for the no-data stripes
px = fig.add_axes([0, 0, 1, 1], facecolor='none')
px.set_xlim(0, 640)
px.set_ylim(640, 0)
px.axis('off')

STRIPE = '#d6d6d6'
def stripes(patch, lw=2.0, gap=22):
    for off in range(-640, 1280, gap):
        ln, = px.plot([off, off + 640], [640, 0], color=STRIPE, lw=lw, zorder=2,
                      solid_capstyle='butt')
        ln.set_clip_path(patch)

for name, rings in outlines.items():
    v = values[name]
    for ring in rings:
        xy = project(ring)
        if v is None:
            poly = Polygon(xy, closed=True, facecolor='white', edgecolor='#cccccc', lw=1.0)
            ax.add_patch(poly)
            stripes(poly, lw=2.5, gap=34)
        else:
            ax.add_patch(Polygon(xy, closed=True, facecolor=color_for(v), edgecolor='#666666', lw=0.45))

# ---- legend ----
TXT = '#5f5f5f'
LINE = '#444444'
EDGE = '#8a8a8a'
x0, bw, y0, y1 = 316, 73, 573, 607
FS = 30
for i, c in enumerate(bin_colors):
    if i == 0:
        pts = [(x0, y0), (x0 - 54, y0), (x0 - 73, (y0 + y1) / 2), (x0 - 54, y1), (x0, y1)]
    else:
        xa = x0 + bw * (i - 1)
        pts = [(xa, y0), (xa + bw, y0), (xa + bw, y1), (xa, y1)]
    px.add_patch(Polygon(pts, closed=True, facecolor=c, edgecolor=EDGE, lw=1.0, zorder=3))
for i, e in enumerate(bin_edges):
    x = x0 + bw * i
    high = i % 2 == 0
    top = 516 if high else 553
    px.plot([x, x], [top, y1], color=LINE, lw=0.9, zorder=4, solid_capstyle='butt')
    last = i == len(bin_edges) - 1
    px.text(639.5 if last else x, 503 if high else 549, str(e), ha='right' if last else 'center',
            va='baseline', fontsize=FS, color=TXT, fontweight='normal', clip_on=False)

nd = Rectangle((31, y0), 148, y1 - y0, facecolor='white', edgecolor=EDGE, lw=1.0, zorder=3)
px.add_patch(nd)
for off in range(31 - 34, 179 + 34, 22):
    ln, = px.plot([off, off + 34], [y1, y0], color=STRIPE, lw=2.0, zorder=3.5, solid_capstyle='butt')
    ln.set_clip_path(nd)
px.add_patch(Rectangle((31, y0), 148, y1 - y0, facecolor='none', edgecolor=EDGE, lw=1.0, zorder=3.6))
px.plot([105, 105], [560, y0], color=LINE, lw=0.9, zorder=4)
px.text(105, 549, no_data_label, ha='center', va='baseline', fontsize=FS, color=TXT, fontweight='normal')

fig.savefig('out.png', dpi=100)
